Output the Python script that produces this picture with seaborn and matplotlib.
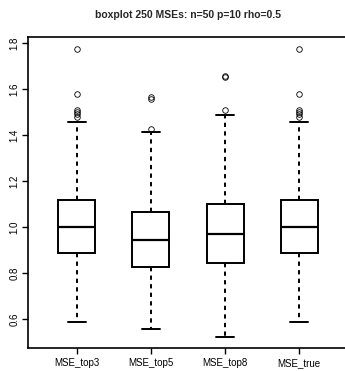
import pandas as pd
import seaborn as sns
import matplotlib.pyplot as plt

# box stats
methods = ["MSE_top3", "MSE_top5", "MSE_top8", "MSE_true"]
whisk_lo = [0.588, 0.555, 0.520, 0.588]
q1 = [0.887, 0.828, 0.843, 0.887]
median = [1.000, 0.943, 0.970, 1.000]
q3 = [1.117, 1.065, 1.102, 1.117]
whisk_hi = [1.458, 1.415, 1.486, 1.458]
outliers = [
    [1.48, 1.49, 1.50, 1.51, 1.58, 1.775],
    [1.425, 1.555, 1.565],
    [1.51, 1.65, 1.655],
    [1.48, 1.49, 1.50, 1.51, 1.58, 1.775],
]

# build a sample per method whose quartiles land on the stats above
rows = []
for i, m in enumerate(methods):
    k = len(outliers[i]) + 1
    vals = [whisk_lo[i]] + [q1[i]] * k + [median[i]] * k + [q3[i]] * k + [whisk_hi[i]] + outliers[i]
    for v in vals:
        rows.append({"method": m, "mse": v})
df = pd.DataFrame(rows)

sns.set_style("ticks")
plt.rcParams['font.family'] = ['Liberation Sans', 'DejaVu Sans']

fig = plt.figure(figsize=(3.45, 3.71), dpi=100)
ax = fig.add_axes([28/345, 1-348/371, 320/345, 311/371])

sns.boxplot(data=df, x="method", y="mse", ax=ax, width=0.5, color="white",
            linecolor="black", linewidth=1.4, fliersize=4,
            whiskerprops={"linestyle": (0, (2.2, 2.2))},
            medianprops={"linewidth": 1.6},
            flierprops={"marker": "o", "markerfacecolor": "none",
                        "markeredgecolor": "black", "markeredgewidth": 0.6})

ax.set_xlim(-0.66, 3.66)
ax.set_ylim(0.474, 1.826)
ax.set_yticks([0.6, 0.8, 1.0, 1.2, 1.4, 1.6, 1.8])
ax.set_yticklabels(["0.6", "0.8", "1.0", "1.2", "1.4", "1.6", "1.8"],
                   rotation=90, va="center")
ax.set_xlabel("")
ax.set_ylabel("")
ax.tick_params(axis="both", labelsize=7, length=4, width=1, colors="black")
ax.tick_params(axis="y", pad=2)
for s in ax.spines.values():
    s.set_linewidth(1.2)
    s.set_color("black")
ax.spines["right"].set_visible(False)

ax.set_title("boxplot 250 MSEs: n=50 p=10 rho=0.5", fontsize=7.5,
             fontweight="bold", pad=14)

fig.savefig("out.png", dpi=100)
